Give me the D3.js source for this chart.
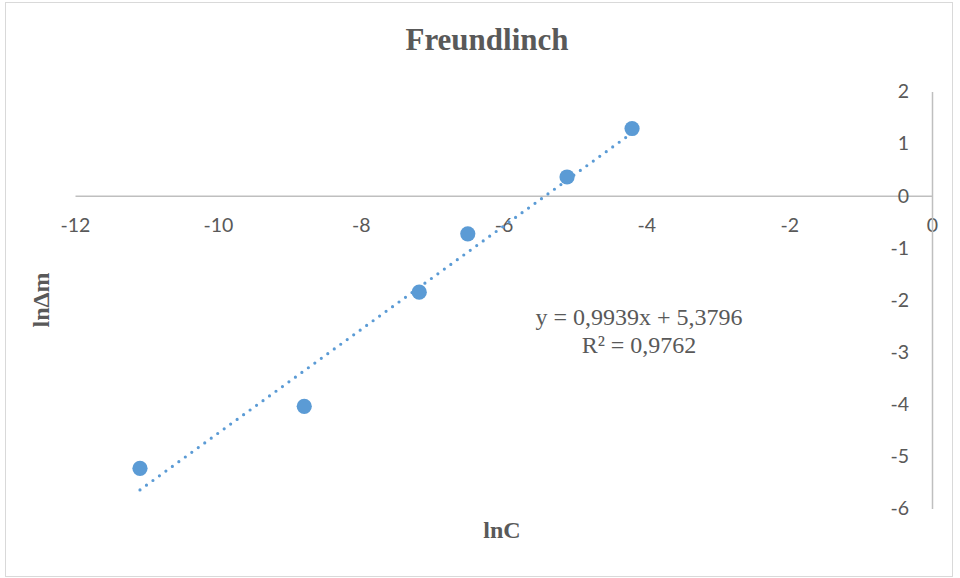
<!DOCTYPE html>
<html><head><meta charset="utf-8">
<script src="https://cdn.jsdelivr.net/npm/d3@7"></script>
<style>
html,body{margin:0;padding:0;background:#fff;}
svg{display:block;}
</style></head>
<body>
<svg id="chart" width="960" height="578"></svg>
<script>
// ---- data ----
const lnC = [-11.09, -8.79, -7.18, -6.50, -5.11, -4.20];
const lnDm = [-5.23, -4.04, -1.85, -0.73, 0.36, 1.29];
const xTicks = [-12, -10, -8, -6, -4, -2, 0];
const yTicks = [2, 1, 0, -1, -2, -3, -4, -5, -6];
const trendSlope = 0.9939;
const trendIntercept = 5.3796;
const equationLines = ["y = 0,9939x + 5,3796", "R² = 0,9762"];
const titleText = "Freundlinch";
const xTitle = "lnC";
const yTitle = "lnΔm";

const svg = d3.select("#chart");
const blue = "#5B9BD5", gray = "#595959", axisCol = "#BFBFBF";

// border
svg.append("rect").attr("x", 5.5).attr("y", 2.5).attr("width", 947).attr("height", 574)
  .attr("fill", "#fff").attr("stroke", "#D9D9D9").attr("stroke-width", 1);

const x = d3.scaleLinear().domain([-12, 0]).range([75, 932]);
const y = d3.scaleLinear().domain([-6, 2]).range([508.5, 91.5]);

// x axis line at y=0
const xAxis = d3.axisBottom(x).tickValues(xTicks).tickSize(0).tickPadding(22)
  .tickFormat(d => d3.format("d")(d).replace("−", "-"));
const gx = svg.append("g").attr("transform", `translate(0,${y(0)})`).call(xAxis);
gx.select(".domain").attr("stroke", axisCol).attr("stroke-width", 1.5);
gx.selectAll("text").attr("fill", gray).style("font-family", "Lato, 'Open Sans', sans-serif").style("font-size", "19.5px");

// y axis line at x=0
const yAxis = d3.axisLeft(y).tickValues(yTicks).tickSize(0).tickPadding(23)
  .tickFormat(d => d3.format("d")(d).replace("−", "-"));
const gy = svg.append("g").attr("transform", `translate(${x(0)},0)`).call(yAxis);
gy.select(".domain").attr("stroke", axisCol).attr("stroke-width", 1.5);
gy.selectAll("text").attr("fill", gray).style("font-family", "Lato, 'Open Sans', sans-serif").style("font-size", "19.5px");

// trendline
const xMin = d3.min(lnC), xMax = d3.max(lnC);
svg.append("line")
  .attr("x1", x(xMin)).attr("y1", y(trendSlope * xMin + trendIntercept))
  .attr("x2", x(xMax)).attr("y2", y(trendSlope * xMax + trendIntercept))
  .attr("stroke", blue).attr("stroke-width", 3.2)
  .attr("stroke-dasharray", "0 8").attr("stroke-linecap", "round");

// points
svg.append("g").selectAll("circle").data(lnC.map((v, i) => [v, lnDm[i]])).join("circle")
  .attr("cx", d => x(d[0])).attr("cy", d => y(d[1])).attr("r", 7.6).attr("fill", blue);

// title
svg.append("text").attr("x", 487).attr("y", 50).attr("text-anchor", "middle")
  .style("font-family", "'Liberation Serif', 'Times New Roman', serif").style("font-weight", "bold")
  .style("font-size", "31px").attr("fill", gray).text(titleText);

// axis titles
svg.append("text").attr("x", 502).attr("y", 538).attr("text-anchor", "middle")
  .style("font-family", "'Liberation Serif', serif").style("font-weight", "bold")
  .style("font-size", "24px").attr("fill", gray).text(xTitle);
svg.append("text").attr("transform", "translate(49,300) rotate(-90)").attr("text-anchor", "middle")
  .style("font-family", "'Liberation Serif', serif").style("font-weight", "bold")
  .style("font-size", "24px").attr("fill", gray).text(yTitle);

// equation
svg.append("g").selectAll("text").data(equationLines).join("text")
  .attr("x", 639).attr("y", (d, i) => 325 + i * 28).attr("text-anchor", "middle")
  .style("font-family", "'Liberation Serif', serif").style("font-size", "24px")
  .attr("fill", gray).text(d => d);
</script>
</body></html>
